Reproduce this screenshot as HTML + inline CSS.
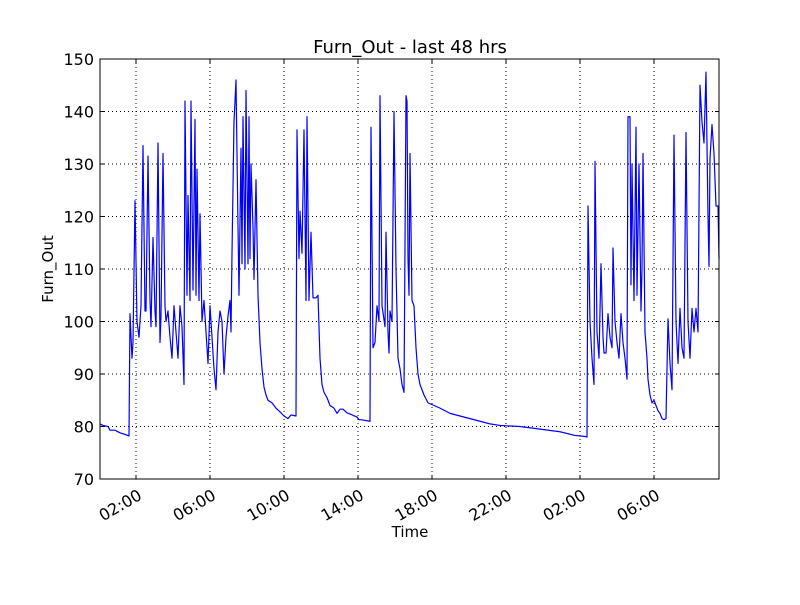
<!DOCTYPE html>
<html><head><meta charset="utf-8"><style>
body{margin:0;background:#fff}
svg text{font-family:"DejaVu Sans","Liberation Sans",sans-serif;fill:#000}
</style></head><body>
<svg id="chart" width="800" height="600">
<rect width="800" height="600" fill="#fff"/>
<g id="grid"></g>
<g id="series"></g>
<rect x="100" y="59" width="619" height="420" fill="none" stroke="#000" stroke-width="1"/>
<g id="ticks"></g>
<text x="410" y="53" font-size="18" text-anchor="middle">Furn_Out - last 48 hrs</text>
<text x="410" y="537" font-size="15" text-anchor="middle">Time</text>
<text transform="translate(53,269) rotate(-90)" font-size="15" text-anchor="middle">Furn_Out</text>
</svg>
<script>
// sample index (logger period ~3.243 min, start at 00:03) and Furn_Out values
const sampleIdx=[0,3,8,10,15,20,25,29,30,32,33,35,37,39,41,43,45,46,48,50,51,53,55,56,58,60,61,63,65,66,68,70,72,74,76,78,80,82,84,85,87,88,90,91,93,95,96,97,99,100,102,104,106,108,110,112,114,116,118,120,122,124,126,128,130,131,132,134,136,138,139,141,142,143,145,146,148,149,150,151,153,154,156,158,160,162,164,166,168,172,176,180,184,188,191,196,197,199,200,202,204,206,207,209,211,213,216,218,220,222,224,227,230,234,237,240,243,247,251,257,259,261,270,271,273,275,277,279,280,282,285,286,288,289,290,292,294,296,298,300,302,304,306,307,308,309,310,312,314,316,318,320,324,328,334,340,345,350,360,370,380,390,400,420,440,460,475,485,487,488,490,492,494,495,497,499,501,503,504,506,508,510,512,513,515,517,519,521,523,525,527,528,530,531,532,534,536,537,539,541,542,543,545,547,548,550,552,554,556,558,560,562,564,566,568,570,572,574,576,578,580,582,584,586,588,590,592,594,596,598,600,602,604,606,608,609,610,612,614,616,618,619];
const furnOut=[80.5,80.2,80,79.3,79.3,78.8,78.5,78.2,101.5,93,96,123,100,97,103,133.5,102,102,131.5,104,99,116,102,99,134,96,101,132,103,100,102,97,93,103,98,93,103,99,88,142,105,124,104,142,106,138.5,105,129,104,120.5,100,104,98,92,103,97,91,87,98,102,100,90,97,101,104,98,113,138,146,118,105,133,111,139,110,144,111,139,112,130,118,108,127,105,96,91,87.5,86,85,84.5,83.5,82.8,82,81.5,82.2,82,136.5,112,121,113,136.5,104,139,104,117,104.5,104.5,105,93,88,86.5,85.5,84,83.5,82.5,83.3,83.3,82.6,82.3,81.8,81.3,81.3,81,137,95,96,103,100,143,103,99,117,98,94,102,100,140,110,93,91,88,86.5,143,142,112,105,132,104,103,95,90,88,86,84.5,84,83.5,83,82.5,82,81.5,81,80.5,80.2,80,79.5,79,78.3,78.1,78,122,100,93,88,130.5,98,93,111,97,94,94,101.5,97,95,114,100,96,93,101.5,96,93,89,139,139,107,130,104,137,105,130,102,110,132,98,93,89,86,84.5,85,84,83,82.5,81.5,81.3,81.5,100.5,92,87,135.5,100,92,102.5,95,93,136,100,93,102.5,98,102.5,98,145,138,134,147.5,120,110.5,131,137.5,132,122,122,112];
const yTicks=[70,80,90,100,110,120,130,140,150];
const xTickLabels=["02:00","06:00","10:00","14:00","18:00","22:00","02:00","06:00"];
const xTickHours=[2,6,10,14,18,22,26,30];

const L=100,R=719,T=59,B=479,NS="http://www.w3.org/2000/svg";
const sampleMin=60/18.5, startMin=120-36*sampleMin;
const idxMax=619;
const xOfMin=m=>L+(m-startMin)/(idxMax*sampleMin)*(R-L);
const xOfIdx=i=>xOfMin(startMin+i*sampleMin);
const yOf=v=>B-(v-70)/(150-70)*(B-T);
function mk(tag,attrs,parent){const e=document.createElementNS(NS,tag);for(const k in attrs)e.setAttribute(k,attrs[k]);parent.appendChild(e);return e;}
const grid=document.getElementById('grid'),ticks=document.getElementById('ticks'),series=document.getElementById('series');
yTicks.forEach(v=>{const y=yOf(v);
 if(v>70&&v<150){const g=mk('line',{x1:L,x2:R,y1:y,y2:y,stroke:'#000','stroke-dasharray':'1,3','stroke-width':1},grid);
 
 }
 mk('line',{x1:L,x2:L+4,y1:y,y2:y,stroke:'#000'},ticks);mk('line',{x1:R,x2:R-4,y1:y,y2:y,stroke:'#000'},ticks);
 const t=mk('text',{x:L-6,y:y+6,'font-size':16,'text-anchor':'end'},ticks);t.textContent=v;
 
 
});
xTickHours.forEach((h,i)=>{const x=xOfMin(h*60);
 const g=mk('line',{x1:x,x2:x,y1:T,y2:B,stroke:'#000','stroke-dasharray':'1,3','stroke-width':1},grid);
 
 
 mk('line',{x1:x,x2:x,y1:B,y2:B-4,stroke:'#000'},ticks);mk('line',{x1:x,x2:x,y1:T,y2:T+4,stroke:'#000'},ticks);
 const t=mk('text',{transform:`translate(${x+1},${B+9}) rotate(-30)`,'font-size':16,'text-anchor':'end',y:12},ticks);t.textContent=xTickLabels[i];
 
 
});
const d=sampleIdx.map((s,i)=>(i?'L':'M')+xOfIdx(s).toFixed(2)+','+yOf(furnOut[i]).toFixed(2)).join('');
const p=mk('path',{d:d,fill:'none',stroke:'#0000ff','stroke-width':1.2,'stroke-linejoin':'round'},series);


</script>
</body></html>
